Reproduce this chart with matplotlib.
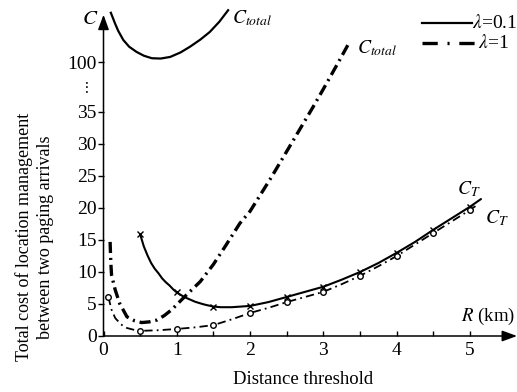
#!/usr/bin/env python3

import numpy as np
import matplotlib
matplotlib.use("Agg")
import matplotlib.pyplot as plt
from matplotlib.lines import Line2D

plt.rcParams["font.family"] = ["Liberation Serif", "DejaVu Serif"]
plt.rcParams["mathtext.fontset"] = "stix"
plt.rcParams["lines.scale_dashes"] = False

## C_T, lambda=0.1 (solid line, x markers)
ct1_x = [0.5, 0.55, 0.6, 0.65, 0.7, 0.75, 0.8, 0.85, 0.9, 0.95, 1.0, 1.1, 1.2, 1.25,
         1.35, 1.4, 1.5, 1.6, 1.75, 2.0, 2.25, 2.5, 2.75, 3.0,
         3.25, 3.5, 3.75, 4.0, 4.25, 4.5, 4.75, 5.0, 5.15]
ct1_y = [15.9, 14.0, 12.6, 11.4, 10.5, 9.8, 9.0, 8.4, 7.9, 7.3, 6.8, 6.1, 5.6, 5.35,
         5.0, 4.85, 4.6, 4.5, 4.5, 4.7, 5.3, 6.1, 6.9, 7.7,
         8.8, 10.0, 11.4, 13.0, 14.7, 16.6, 18.4, 20.2, 21.4]
ct1_mark_x = [0.5, 1.0, 1.5, 2.0, 2.5, 3.0, 3.5, 4.0, 4.5, 5.0]
ct1_mark_y = [15.9, 6.8, 4.6, 4.7, 6.1, 7.7, 10.0, 13.0, 16.6, 20.2]

## C_T, lambda=1 (thin dash-dot, open circles)
ct2_x = [0.066, 0.11, 0.16, 0.24, 0.32, 0.42, 0.5, 0.75, 1.0, 1.25, 1.5, 1.75, 2.0,
         2.25, 2.5, 2.75, 3.0, 3.25, 3.5, 3.75, 4.0, 4.25, 4.5, 4.75, 5.0, 5.1]
ct2_y = [6.1, 4.1, 2.8, 1.8, 1.25, 0.95, 0.8, 0.9, 1.1, 1.35, 1.7, 2.6, 3.6,
         4.4, 5.3, 6.1, 6.9, 8.1, 9.4, 10.9, 12.5, 14.3, 16.1, 17.9, 19.7, 20.5]
ct2_mark_x = [0.066, 0.5, 1.0, 1.5, 2.0, 2.5, 3.0, 3.5, 4.0, 4.5, 5.0]
ct2_mark_y = [6.1, 0.8, 1.1, 1.7, 3.6, 5.3, 6.9, 9.4, 12.5, 16.1, 19.7]

## C_total, lambda=0.1 (solid, top of the broken axis)
tot1_x = [0.1, 0.13, 0.155, 0.2, 0.27, 0.35, 0.45, 0.55, 0.66, 0.78, 0.91, 1.05, 1.18,
          1.32, 1.45, 1.58, 1.70]
tot1_y = [164.2, 157.0, 150.8, 140.8, 128.8, 120.0, 113.3, 108.3, 105.0, 104.6, 106.7, 112.5, 120.0,
          129.2, 139.2, 152.5, 167.5]

## C_total, lambda=1 (thick dash-dot)
tot2_x = [0.09, 0.1, 0.11, 0.16, 0.22, 0.32, 0.42, 0.52, 0.62, 0.73, 0.83, 0.93,
          1.13, 1.32, 1.5, 1.66, 1.86, 2.0, 2.29, 2.58, 2.86, 3.0, 3.2, 3.35]
tot2_y = [14.7, 11.4, 9.5, 7.2, 5.1, 3.0, 2.4, 2.1, 2.2, 2.5, 3.2, 4.1,
          6.4, 8.5, 11.2, 14.0, 17.6, 19.5, 24.8, 30.4, 41.7, 65.0, 99.0, 125.0]

xticks_major = [0, 1, 2, 3, 4, 5]
xticks_minor = [0.5, 1.5, 2.5, 3.5, 4.5]
yticks = [0, 5, 10, 15, 20, 25, 30, 35, 100]

## broken y axis: linear up to 35, squeezed above
Y_BREAK = 35.
Y_K = 0.12

def fwd(y):
  y = np.asarray(y, dtype=float)
  return np.where(y <= Y_BREAK, y, Y_BREAK + (y - Y_BREAK)*Y_K)

def inv(y):
  y = np.asarray(y, dtype=float)
  return np.where(y <= Y_BREAK, y, Y_BREAK + (y - Y_BREAK)/Y_K)

W, H = 517., 392.
def fx(px):
  return px/W
def fy(py):
  return 1. - py/H


fig = plt.figure(figsize=(W/100, H/100), dpi=100)
ax = fig.add_axes([fx(103.5), fy(336), (W - 103.5)/W, (336 - 3.2)/H])
ax.set_yscale("function", functions=(fwd, inv))
ax.set_xlim(0, (W - 103.5)/73.3)
ax.set_ylim(0, float(inv(52.)))

for s in ax.spines.values():
  s.set_visible(False)

## curves
ax.plot(ct1_x, ct1_y, color="k", lw=1.5, solid_capstyle="round")
ax.plot(ct1_mark_x, ct1_mark_y, ls="none", marker="x", ms=4.5, mew=1.0, color="k")

l2, = ax.plot(ct2_x, ct2_y, color="k", lw=1.3)
l2.set_dashes([6, 3, 1.3, 3])
ax.plot(ct2_mark_x, ct2_mark_y, ls="none", marker="o", ms=4, mew=1.0,
        mfc="white", mec="k")

ax.plot(tot1_x, tot1_y, color="k", lw=1.6, clip_on=False)

l4, = ax.plot(tot2_x, tot2_y, color="k", lw=2.4)
l4.set_dashes([8, 3.5, 1.5, 3.5])

## axes with arrows
arrow = dict(arrowstyle="-|>,head_length=0.6,head_width=0.22", lw=1.1, color="k",
             mutation_scale=15, shrinkA=0, shrinkB=0)
ax.annotate("", xy=(ax.get_xlim()[1], 0), xytext=(0, 0), arrowprops=arrow,
            annotation_clip=False)
ax.annotate("", xy=(0, float(inv(50.2))), xytext=(0, 0), arrowprops=arrow,
            annotation_clip=False)

ax.set_xticks(xticks_major)
ax.set_xticklabels([str(v) for v in xticks_major])
ax.set_xticks(xticks_minor, minor=True)
ax.tick_params(axis="x", which="both", direction="in", length=3.5, width=1.0,
               labelsize=14, pad=4)
ax.set_yticks(yticks)
ax.set_yticklabels([str(v) for v in yticks])
ax.yaxis.set_minor_locator(matplotlib.ticker.NullLocator())
ax.tick_params(axis="y", direction="out", length=4, width=1.0, labelsize=14, pad=1)

## labels
fig.text(fx(90), fy(19), "$C$", fontsize=15, ha="center", va="center")
fig.text(fx(85), fy(88), r"$\vdots$", fontsize=11, ha="center", va="center")
fig.text(fx(232), fy(18), "$C_{total}$", fontsize=14, ha="left", va="center")
fig.text(fx(357), fy(48), "$C_{total}$", fontsize=14, ha="left", va="center")
fig.text(fx(457), fy(189), "$C_T$", fontsize=14, ha="left", va="center")
fig.text(fx(485), fy(218), "$C_T$", fontsize=14, ha="left", va="center")
fig.text(fx(461), fy(316), "$R$ (km)", fontsize=13.5, ha="left", va="center")
fig.text(fx(303), fy(380), "Distance threshold", fontsize=13.5, ha="center", va="center")
fig.text(fx(35), fy(237), "Total cost of location management\nbetween two paging arrivals",
         fontsize=13, rotation=90, ha="center", va="center", multialignment="center",
         linespacing=1.3)

## legend
fig.add_artist(Line2D([fx(422), fx(472)], [fy(23), fy(23)], color="k", lw=1.6,
                      transform=fig.transFigure))
leg2 = Line2D([fx(422), fx(478)], [fy(43), fy(43)], color="k", lw=2.4,
              transform=fig.transFigure)
leg2.set_dashes([11, 7, 1.5, 7])
fig.add_artist(leg2)
fig.text(fx(472), fy(23), r"$\lambda$=0.1", fontsize=14, ha="left", va="center")
fig.text(fx(478), fy(43), r"$\lambda$=1", fontsize=14, ha="left", va="center")

fig.savefig("out.png", dpi=100)
